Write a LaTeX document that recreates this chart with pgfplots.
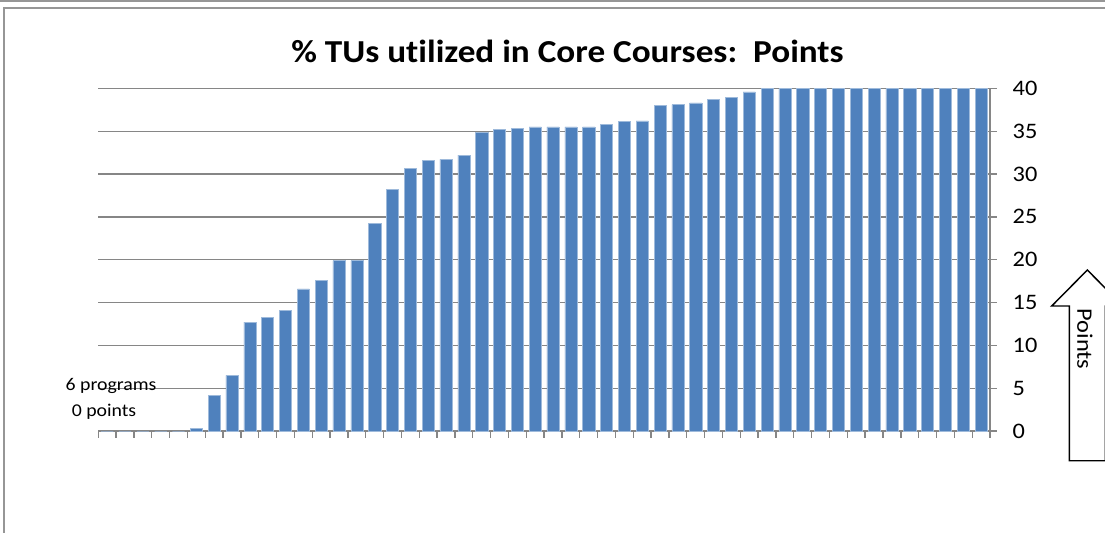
\documentclass[border=0pt]{standalone}
\usepackage{fontspec}
\setmainfont{Carlito}[FakeStretch=1.1, Ligatures=NoCommon]
\usepackage{pgfplots}
\pgfplotsset{compat=1.18}
\definecolor{barblue}{RGB}{79,129,189}
\definecolor{gridgray}{RGB}{134,134,134}
\definecolor{framegray}{RGB}{150,150,150}
\begin{document}
\begin{tikzpicture}
\path[use as bounding box] (0pt,0pt) rectangle (828.75pt,399.75pt);
% frame
\draw[framegray, line width=0.8pt] (0pt,399pt) -- (828.75pt,399pt);
\draw[framegray, line width=0.8pt] (828.75pt,393.75pt) -- (3pt,393.75pt) -- (3pt,0pt);
% title
\node[anchor=base, font=\fontsize{24}{28}\selectfont\bfseries] at (425.6pt,352.5pt) {\% TUs utilized in Core Courses:\ \ Points};
\begin{axis}[
  at={(73.7pt,76.5pt)}, anchor=south west,
  scale only axis, width=668.8pt, height=257pt,
  xmin=0.5, xmax=50.5, ymin=0, ymax=40,
  axis x line=bottom, axis y line=right,
  axis line style={gridgray, line width=1pt, -},
  ytick={0,5,...,40},
  xtick={0.5,1.5,...,50.5}, xticklabels={},
  tick align=outside, major tick length=5pt,
  tick style={gridgray, line width=1pt},
  ymajorgrids, grid style={gridgray, line width=1pt},
  ybar, bar width=0.68,
  /pgf/number format/assume math mode=true,
  yticklabel style={font=\fontsize{16.6}{20}\selectfont, text=black, anchor=west, xshift=8.5pt},
]
\addplot[fill=barblue, draw=barblue!55!white, line width=0.4pt] coordinates {
(1,0) (2,0) (3,0) (4,0) (5,0) (6,0.3) (7,4.2) (8,6.5) (9,12.7) (10,13.3)
(11,14.1) (12,16.6) (13,17.6) (14,19.9) (15,19.9) (16,24.2) (17,28.2) (18,30.7) (19,31.6) (20,31.7)
(21,32.2) (22,34.9) (23,35.2) (24,35.3) (25,35.5) (26,35.5) (27,35.5) (28,35.5) (29,35.8) (30,36.1)
(31,36.2) (32,38.0) (33,38.1) (34,38.3) (35,38.7) (36,38.9) (37,39.6) (38,40) (39,40) (40,40)
(41,40) (42,40) (43,40) (44,40) (45,40) (46,40) (47,40) (48,40) (49,40) (50,40)
};
\end{axis}
% annotation
\node[anchor=base, font=\fontsize{13.5}{16}\selectfont, inner sep=0pt] at (83.25pt,106.7pt) {6 programs};
\node[anchor=base, font=\fontsize{13.5}{16}\selectfont, inner sep=0pt] at (78pt,87.2pt) {0 points};
% arrow shape
\begin{scope}
\clip (0pt,0pt) rectangle (828.75pt,399.75pt);
\draw[black, line width=1.1pt] (802pt,54.2pt) -- (802pt,170.25pt) -- (788.8pt,170.25pt) -- (815.5pt,197.25pt) -- (842.2pt,170.25pt) -- (829pt,170.25pt) -- (829pt,54.2pt) -- cycle;
\end{scope}
\node[rotate=-90, font=\fontsize{16.6}{20}\selectfont] at (813.75pt,145.5pt) {Points};
\end{tikzpicture}
\end{document}
